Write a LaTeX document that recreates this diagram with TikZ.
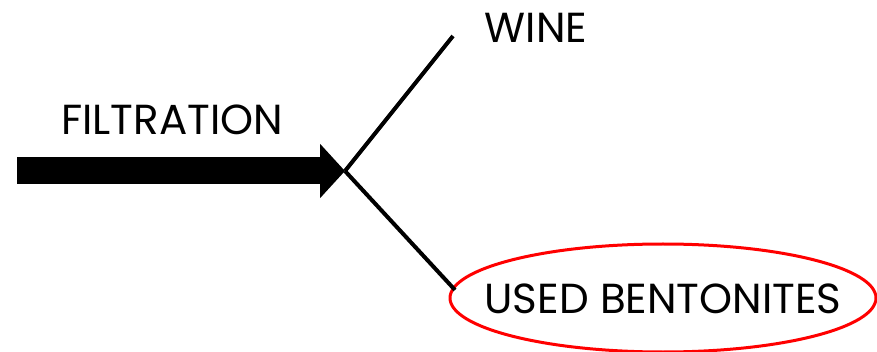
\documentclass[tikz,border=0pt]{standalone}
\usepackage{fontspec}
\setmainfont{Poppins}
\usetikzlibrary{arrows.meta,shapes.geometric}
\begin{document}
\begin{tikzpicture}[x=1pt,y=-1pt,
  lbl/.style={inner sep=0pt,anchor=base,font=\fontsize{42}{42}\selectfont},
  branch/.style={line width=4pt}]
\useasboundingbox (0,0) rectangle (877,352);
\coordinate (start) at (17,171);
\coordinate (junc) at (345,171);
\coordinate (wineend) at (453,36);
\coordinate (usedend) at (455,290);
\node[lbl] (filt) at (172,135) {FILTRATION};
\node[lbl] (wine) at (536,43) {WINE};
\node[lbl] (used) at (663,313) {USED BENTONITES};
\node[draw=red,line width=3pt,ellipse,minimum width=426,minimum height=108,inner sep=0pt] (oval) at (663,298) {};
\draw[line width=27pt,-{Triangle[length=25pt,width=53pt]}] (start) -- (junc);
\draw[branch] (junc) -- (wineend);
\draw[branch] (junc) -- (usedend);
\end{tikzpicture}
\end{document}
